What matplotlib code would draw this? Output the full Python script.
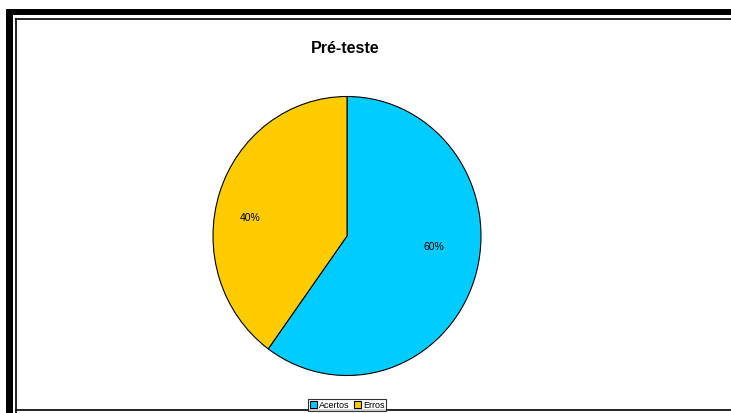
import matplotlib.pyplot as plt
from matplotlib.lines import Line2D
from matplotlib.patches import Rectangle

plt.rcParams['font.family'] = ['Liberation Sans', 'DejaVu Sans']

categories = ['Acertos', 'Erros']
values = [60, 40]
colors = ['#00CCFF', '#FFCC00']

W, H = 731, 414
fig = plt.figure(figsize=(W / 100, H / 100), dpi=100)

# frame: thick outer band + thin inner line (right/bottom run off the image)
fig.add_artist(Rectangle((6 / W, 1 - 16 / H), 1.0, 6.5 / H, transform=fig.transFigure,
                         facecolor='black', edgecolor='none'))
fig.add_artist(Rectangle((6 / W, -0.1), 7 / W, 1 - 9.5 / H + 0.1, transform=fig.transFigure,
                         facecolor='black', edgecolor='none'))
fig.add_artist(Line2D([15.5 / W, 15.5 / W], [-0.1, 1 - 19.5 / H], transform=fig.transFigure,
                      color='black', lw=1.2))
fig.add_artist(Line2D([15.5 / W, 1.1], [1 - 19.5 / H, 1 - 19.5 / H], transform=fig.transFigure,
                      color='black', lw=1.2))
fig.add_artist(Line2D([15.5 / W, 1.1], [1 - 411 / H, 1 - 411 / H], transform=fig.transFigure,
                      color='black', lw=1.2))

# pie axes sized to the (slightly tall) ellipse in the picture
cx, cy, rx, ry = 347, 237, 134, 139.5
ax = fig.add_axes([(cx - rx) / W, 1 - (cy + ry) / H, 2 * rx / W, 2 * ry / H])
wedges, texts, autotexts = ax.pie(
    values, colors=colors, startangle=90, counterclock=False,
    autopct='%1.0f%%', pctdistance=0.65,
    wedgeprops=dict(edgecolor='black', linewidth=0.8),
    textprops=dict(fontsize=7.5))
ax.set_aspect('auto')
ax.set_xlim(-1, 1)
ax.set_ylim(-1, 1)

# label spots as placed in the original chart
label_pos = [(0.65, -0.07), (-0.72, 0.135)]
for t, p in zip(autotexts, label_pos):
    t.set_position(p)

fig.text(345 / W, 1 - 48.5 / H, 'Pré-teste', ha='center', va='center',
         fontsize=11.5, fontweight='bold')

leg = fig.legend(wedges, categories, loc='center', bbox_to_anchor=(347 / W, 1 - 406 / H),
                 ncol=2, fontsize=6.5, frameon=True, fancybox=False, edgecolor='black',
                 handlelength=0.8, handleheight=0.8, handletextpad=0.2, columnspacing=0.5,
                 borderpad=0.15, borderaxespad=0)
leg.get_frame().set_linewidth(0.8)

fig.savefig('out.png', dpi=100)
